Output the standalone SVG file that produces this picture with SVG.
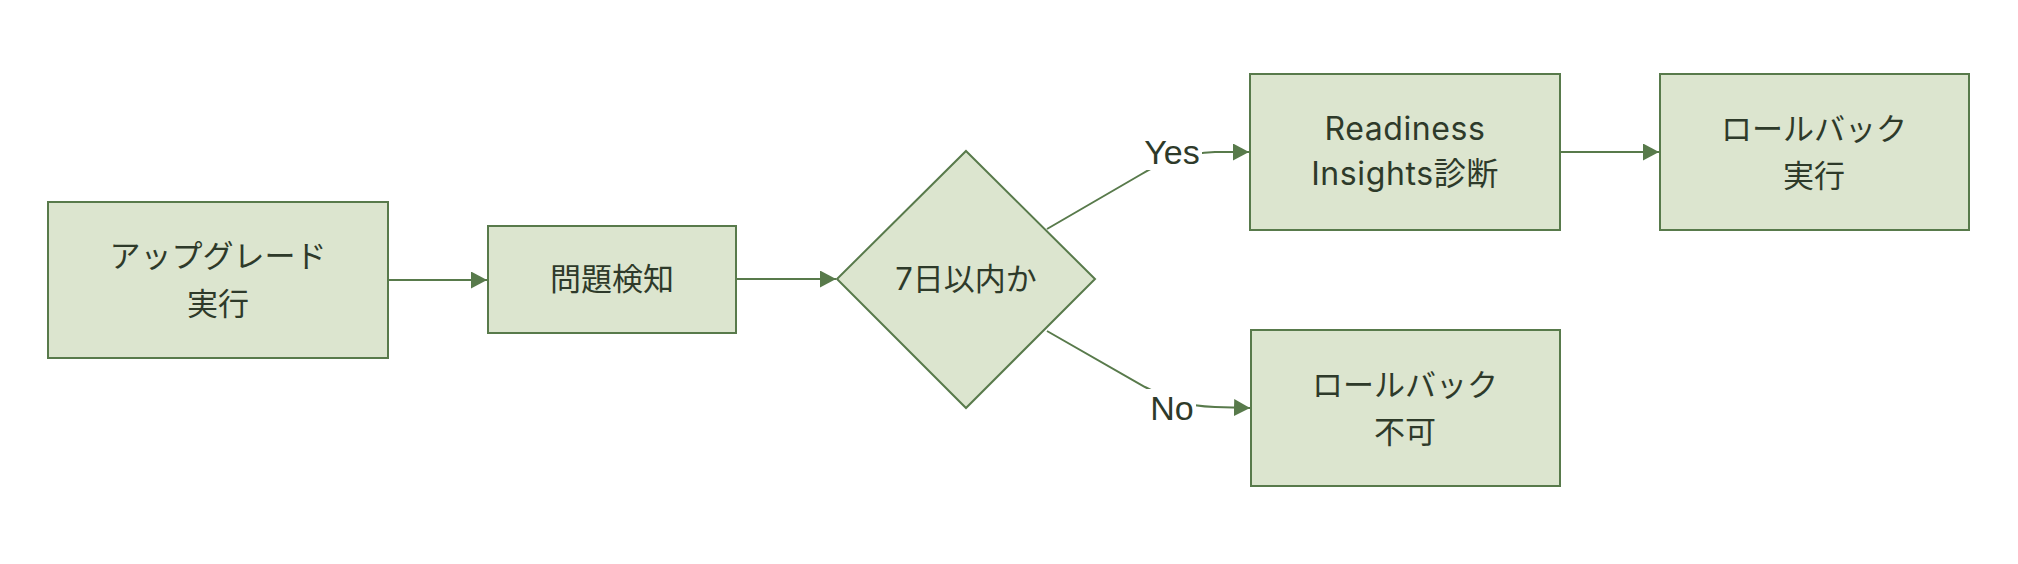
<svg xmlns="http://www.w3.org/2000/svg" width="2018" height="564" viewBox="0 0 2018 564">
<style>
.node{fill:#dce5cf;stroke:#587a4b;stroke-width:2}
.lbl{font-family:"Inter","Noto Sans CJK JP","Liberation Sans",sans-serif;font-size:31px;fill:#2e3a2a;text-anchor:middle}
.lat{font-size:32px;letter-spacing:0.6px}
.edge{fill:none;stroke:#587a4b;stroke-width:2}
.elbl{font-family:"Liberation Sans","Noto Sans CJK JP",sans-serif;font-size:34px;fill:#2e3a2a;text-anchor:middle}
</style>
<defs>
<marker id="arr" viewBox="0 0 16 17" refX="16" refY="8.5" markerWidth="16" markerHeight="17" markerUnits="userSpaceOnUse" orient="auto">
<path d="M0,0 L16,8.5 L0,17 Z" fill="#587a4b"/>
</marker>
</defs>
<rect width="2018" height="564" fill="#ffffff"/>
<g id="connectors">
<path class="edge" d="M389,280 L487,280" marker-end="url(#arr)"/>
<path class="edge" d="M737,279 L836,279" marker-end="url(#arr)"/>
<path class="edge" d="M1047,229 L1140,175 C1165,160 1185,153 1215,152 L1249,152" marker-end="url(#arr)"/>
<path class="edge" d="M1047,331 L1145,387 C1170,400 1185,406 1215,407 L1250,408" marker-end="url(#arr)"/>
<path class="edge" d="M1561,152 L1659,152" marker-end="url(#arr)"/>
<rect x="1142" y="132" width="60" height="38" fill="#ffffff"/>
<rect x="1146" y="389" width="50" height="38" fill="#ffffff"/>
<text class="elbl" x="1172" y="164">Yes</text>
<text class="elbl" x="1172" y="420">No</text>
</g>
<g id="upgrade">
<rect class="node" x="48" y="202" width="340" height="156"/>
<text class="lbl" x="218" y="267">アップグレード</text>
<text class="lbl" x="218" y="315">実行</text>
</g>
<g id="detect">
<rect class="node" x="488" y="226" width="248" height="107"/>
<text class="lbl" x="612" y="290">問題検知</text>
</g>
<g id="decision">
<polygon class="node" points="966,151 1095,279 966,408 837,279"/>
<text class="lbl" x="966" y="290">7日以内か</text>
</g>
<g id="readiness">
<rect class="node" x="1250" y="74" width="310" height="156"/>
<text class="lbl lat" x="1405" y="140">Readiness</text>
<text class="lbl lat" x="1405" y="185">Insights診断</text>
</g>
<g id="rollback">
<rect class="node" x="1660" y="74" width="309" height="156"/>
<text class="lbl" x="1814" y="140">ロールバック</text>
<text class="lbl" x="1814" y="187">実行</text>
</g>
<g id="norollback">
<rect class="node" x="1251" y="330" width="309" height="156"/>
<text class="lbl" x="1405" y="396">ロールバック</text>
<text class="lbl" x="1405" y="443">不可</text>
</g>
</svg>
